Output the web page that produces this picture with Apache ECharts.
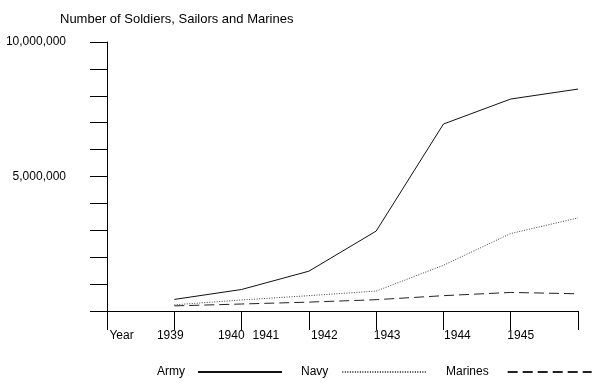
<!DOCTYPE html>
<html>
<head>
<meta charset="utf-8">
<script src="https://cdn.jsdelivr.net/npm/echarts@6/dist/echarts.min.js"></script>
<style>
  html, body { margin: 0; padding: 0; background: #fff; }
  #chart { width: 612px; height: 389px; }
</style>
</head>
<body>
<div id="chart"></div>
<script>
// ---- Data ----
var xPositions = [1, 2, 3, 4, 5, 6, 7];
var army    = [430000, 800000, 1480000, 2970000, 6950000, 7880000, 8250000];
var navy    = [230000, 410000, 570000, 740000, 1700000, 2880000, 3460000];
var marines = [190000, 260000, 330000, 420000, 570000, 690000, 640000];
var seriesNames = ['Army', 'Navy', 'Marines'];
var xTickLabels = ['Year', '1939', '1940|1941', '1942', '1943', '1944', '1945', ''];
var yLabelValues = [5000000, 10000000];
var yLabelTexts = ['5,000,000', '10,000,000'];
var titleText = 'Number of Soldiers, Sailors and Marines';

// ---- Style: horizontal shift of each x label relative to its tick (px) ----
var xLabelShift = [14.5, -4, 7, 15.5, 11, 14, 10, 0];

var FONT = '"Liberation Sans", Arial, sans-serif';

function pair(a) { return xPositions.map(function (x, i) { return [x, a[i]]; }); }

function xLabelFormatter(v) {
  var i = Math.round(v);
  var t = xTickLabels[i];
  if (!t) return '';
  var parts = t.split('|');
  var body = parts.map(function (p) { return '{t|' + p + '}'; }).join('{g|}');
  var d = xLabelShift[i];
  if (d > 0) return '{s' + i + '|}' + body;
  if (d < 0) return body + '{s' + i + '|}';
  return body;
}
var rich = { t: { fontSize: 12, fontFamily: FONT, color: '#000' }, g: { width: 8, height: 1 } };
xLabelShift.forEach(function (d, i) { rich['s' + i] = { width: Math.abs(d) * 2, height: 1 }; });

function legendFor(name, left, pad) {
  return {
    data: [name], left: left, top: 361, align: 'right', itemWidth: 84, itemHeight: 14,
    itemStyle: { opacity: 0 },
    textStyle: { fontSize: 12, color: '#000', fontFamily: FONT, padding: [0, pad, 0, 0] }
  };
}

var chart = echarts.init(document.getElementById('chart'), null, { renderer: 'canvas' });
chart.setOption({
  animation: false,
  backgroundColor: '#fff',
  title: {
    text: titleText, left: 55, top: 8,
    textStyle: { fontSize: 13, fontWeight: 'normal', color: '#000', fontFamily: FONT }
  },
  grid: { left: 107, right: 34, top: 42, bottom: 78 },
  legend: [
    legendFor(seriesNames[0], 152, 8),
    legendFor(seriesNames[1], 296, 9),
    legendFor(seriesNames[2], 441, 14)
  ],
  xAxis: {
    type: 'value', min: 0, max: 7, interval: 1,
    axisLine: { lineStyle: { color: '#000', width: 1 } },
    axisTick: { show: true, length: 19, lineStyle: { color: '#000' } },
    splitLine: { show: false },
    axisLabel: { margin: 19, formatter: xLabelFormatter, rich: rich, align: 'center', showMinLabel: true, showMaxLabel: true }
  },
  yAxis: {
    type: 'value', min: 0, max: 10000000, interval: 1000000,
    axisLine: { show: true, lineStyle: { color: '#000', width: 1 } },
    axisTick: { show: true, length: 17, lineStyle: { color: '#000' } },
    splitLine: { show: false },
    axisLabel: {
      margin: 41, fontSize: 12, color: '#000', fontFamily: FONT,
      formatter: function (v) { var k = yLabelValues.indexOf(v); return k >= 0 ? yLabelTexts[k] : ''; }
    }
  },
  series: [
    { name: seriesNames[0], type: 'line', data: pair(army), symbol: 'none',
      lineStyle: { color: '#111', width: 1, type: 'solid' }, itemStyle: { color: '#111' } },
    { name: seriesNames[1], type: 'line', data: pair(navy), symbol: 'none',
      lineStyle: { color: '#444', width: 1, type: [1, 1.5] }, itemStyle: { color: '#444' } },
    { name: seriesNames[2], type: 'line', data: pair(marines), symbol: 'none',
      lineStyle: { color: '#222', width: 1, type: [10, 5] }, itemStyle: { color: '#222' } }
  ]
});
</script>
</body>
</html>
